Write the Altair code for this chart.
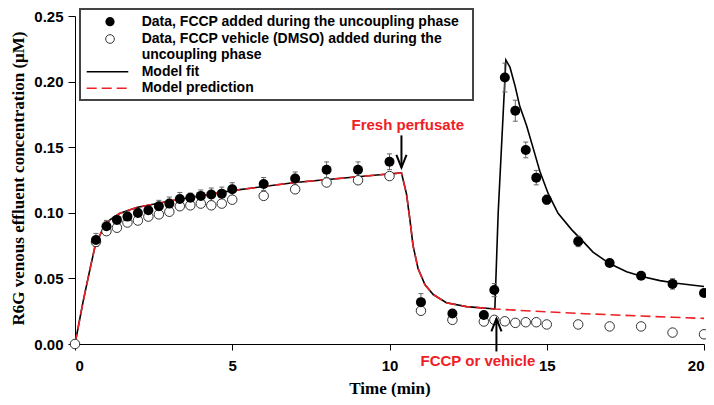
import altair as alt
import pandas as pd

# ---------------- data ----------------
time_filled = [0.667, 1.0, 1.333, 1.667, 2.0, 2.333, 2.667, 3.0, 3.333, 3.667, 4.0, 4.333,
               4.667, 5.0, 6.0, 7.0, 8.0, 9.0, 10.0, 11.0, 12.0, 13.0, 13.333, 13.667,
               14.0, 14.333, 14.667, 15.0, 16.0, 17.0, 18.0, 19.0, 20.0]
conc_filled = [0.0793, 0.0897, 0.0946, 0.0971, 0.0998, 0.1020, 0.1050, 0.1070, 0.1105, 0.1115,
               0.1129, 0.1139, 0.1146, 0.1179, 0.1219, 0.1261, 0.1328, 0.1328, 0.1389, 0.0319,
               0.0233, 0.0221, 0.0411, 0.2031, 0.1778, 0.1479, 0.1268, 0.1100, 0.0782, 0.0617,
               0.0520, 0.0458, 0.0389]
err_filled = [0.005, 0.0045, 0.003, 0.0035, 0.0035, 0.003, 0.0045, 0.005, 0.005, 0.0035,
              0.0045, 0.005, 0.005, 0.005, 0.005, 0.005, 0.006, 0.006, 0.006, 0.0065,
              0.002, 0.002, 0.005, 0.011, 0.008, 0.006, 0.0055, 0.0035, 0.004, 0.0025,
              0.002, 0.004, 0.002]

time_open = [0.0, 0.667, 1.0, 1.333, 1.667, 2.0, 2.333, 2.667, 3.0, 3.333, 3.667, 4.0, 4.333,
             4.667, 5.0, 6.0, 7.0, 8.0, 9.0, 10.0, 11.0, 12.0, 13.0, 13.333, 13.667,
             14.0, 14.333, 14.667, 15.0, 16.0, 17.0, 18.0, 19.0, 20.0]
conc_open = [0.0, 0.0778, 0.0860, 0.0886, 0.0926, 0.0941, 0.0971, 0.0988, 0.1008, 0.1050,
             0.1057, 0.1070, 0.1057, 0.1070, 0.1100, 0.1129, 0.1179, 0.1231, 0.1248, 0.1280,
             0.0253, 0.0184, 0.0171, 0.0184, 0.0173, 0.0161, 0.0166, 0.0166, 0.0149, 0.0149,
             0.0134, 0.0134, 0.0087, 0.0074]
err_open = [0.0, 0.003, 0.003, 0.002, 0.002, 0.002, 0.002, 0.002, 0.002, 0.002,
            0.002, 0.002, 0.002, 0.002, 0.002, 0.002, 0.002, 0.002, 0.002, 0.002,
            0.002, 0.002, 0.002, 0.002, 0.002, 0.002, 0.002, 0.002, 0.002, 0.002,
            0.002, 0.002, 0.003, 0.002]

# model curve shared by fit and prediction (uptake + washout)
base_t = [0.0, 0.26, 0.48, 0.64, 0.85, 1.11, 1.43, 1.96, 2.49, 3.02, 4.0, 5.0, 7.0, 9.6,
          10.38, 10.54, 10.65, 10.75, 10.91, 11.13, 11.39, 11.81, 12.45, 13.35]
base_v = [0.0, 0.0327, 0.0574, 0.0748, 0.0860, 0.0946, 0.0996, 0.1040, 0.1065, 0.1090,
          0.1130, 0.1169, 0.1231, 0.1288, 0.1304, 0.1144, 0.0946, 0.0748, 0.0574, 0.0451,
          0.0377, 0.0314, 0.0285, 0.0267]
# model fit after FCCP
fit_tail_t = [13.455, 13.70, 13.83, 14.0, 14.14, 14.36, 14.57, 14.78, 15.05, 15.36, 15.79,
              16.16, 16.47, 17.01, 17.54, 18.06, 18.60, 19.13, 20.0]
fit_tail_v = [0.0996, 0.2164, 0.2110, 0.1960, 0.1813, 0.1664, 0.1491, 0.1317, 0.1144, 0.0996,
              0.0872, 0.0780, 0.0700, 0.0611, 0.0550, 0.0513, 0.0483, 0.0463, 0.0438]
# model prediction after vehicle
pred_tail_t = [14.0, 15.0, 16.0, 17.0, 18.0, 19.0, 20.0]
pred_tail_v = [0.0258, 0.0245, 0.0233, 0.0223, 0.0213, 0.0204, 0.0195]

x_ticks = [0, 5, 10, 15, 20]
y_ticks = [0.0, 0.05, 0.10, 0.15, 0.20, 0.25]

legend_rows = ["Data, FCCP added during the uncoupling phase",
               "Data, FCCP vehicle (DMSO) added during the",
               "uncoupling phase",
               "Model fit",
               "Model prediction"]

fresh_label = "Fresh perfusate"
fresh_arrow_t, fresh_arrow_top, fresh_arrow_tip = 10.38, 0.159, 0.1345
fresh_text_t, fresh_text_v = 10.58, 0.1672
fccp_label = "FCCP or vehicle"
fccp_arrow_t, fccp_arrow_bottom, fccp_arrow_tip = 13.40, -0.0057, 0.0193
fccp_text_t, fccp_text_v = 12.81, -0.0126

# ---------------- frames ----------------
fit_df = pd.DataFrame({"t": base_t + fit_tail_t, "v": base_v + fit_tail_v})
fit_df["i"] = range(len(fit_df))
pred_df = pd.DataFrame({"t": base_t + pred_tail_t, "v": base_v + pred_tail_v})
pred_df["i"] = range(len(pred_df))

filled_df = pd.DataFrame({"t": time_filled, "v": conc_filled, "e": err_filled})
open_df = pd.DataFrame({"t": time_open, "v": conc_open, "e": err_open})
err_df = pd.concat([filled_df, open_df[open_df["e"] > 0]], ignore_index=True)
err_df["lo"] = err_df["v"] - err_df["e"]
err_df["hi"] = err_df["v"] + err_df["e"]

RED = "#ee2026"
GRAY = "#666666"
W, H = 629, 328

xs = alt.Scale(domain=[0, 20], nice=False, zero=False)
ys = alt.Scale(domain=[0, 0.25], nice=False)

x_axis = alt.Axis(values=x_ticks, title="Time (min)", grid=False, tickSize=6,
                  labelPadding=8, labelFont="Liberation Sans", labelFontWeight="bold",
                  labelFontSize=15, labelColor="black", domainColor="black",
                  tickColor="black", titleFont="Liberation Serif", titleFontWeight="bold",
                  titleFontSize=17, titleColor="black", titleY=44, titleBaseline="middle")
y_axis = alt.Axis(values=y_ticks, format=".2f", title="R6G  venous effluent concentration (\u03bcM)",
                  grid=False, tickSize=7, labelPadding=5, labelFont="Liberation Sans",
                  labelFontWeight="bold", labelFontSize=15, labelColor="black",
                  domainColor="black", tickColor="black", titleFont="Liberation Serif",
                  titleFontWeight="bold", titleFontSize=17, titleColor="black",
                  titleAngle=270, titleX=-57, titleY=162, titleAlign="center",
                  titleBaseline="middle")

X = lambda f="t": alt.X(f"{f}:Q", scale=xs, axis=x_axis)
Y = lambda f="v": alt.Y(f"{f}:Q", scale=ys, axis=y_axis)

# legend frame, drawn first (white box with grey border)
one = pd.DataFrame({"k": [0]})
frame = alt.Chart(one).mark_rect(fill="white", stroke="#444444", strokeWidth=2,
                                 strokeOpacity=1, fillOpacity=1).encode(
    x=alt.value(5), x2=alt.value(398), y=alt.value(-7), y2=alt.value(84))

fit_line = alt.Chart(fit_df).mark_line(color="black", strokeWidth=1.6).encode(
    x=X(), y=Y(), order="i:Q")
pred_line = alt.Chart(pred_df).mark_line(color=RED, strokeWidth=1.6, strokeDash=[10, 5]).encode(
    x=X(), y=Y(), order="i:Q")

err_rule = alt.Chart(err_df).mark_rule(color=GRAY, strokeWidth=1).encode(
    x=X(), y=Y("lo"), y2="hi:Q")
cap_lo = alt.Chart(err_df).mark_point(shape="M-1,0L1,0", size=25, color=GRAY, strokeWidth=1,
                                      filled=False, opacity=1).encode(x=X(), y=Y("lo"))
cap_hi = alt.Chart(err_df).mark_point(shape="M-1,0L1,0", size=25, color=GRAY, strokeWidth=1,
                                      filled=False, opacity=1).encode(x=X(), y=Y("hi"))

open_pts = alt.Chart(open_df).mark_point(shape="circle", size=90, filled=True, fill="white",
                                         stroke="#333333", strokeWidth=1, opacity=1).encode(
    x=X(), y=Y())
filled_pts = alt.Chart(filled_df).mark_circle(size=100, color="black", opacity=1).encode(
    x=X(), y=Y())

# annotations
ann_rules = pd.DataFrame({"t": [fresh_arrow_t, fccp_arrow_t],
                          "a": [fresh_arrow_top, fccp_arrow_bottom],
                          "b": [fresh_arrow_tip, fccp_arrow_tip]})
arrow_shafts = alt.Chart(ann_rules).mark_rule(color="black", strokeWidth=2).encode(
    x=X(), y=Y("a"), y2="b:Q")
head_down = alt.Chart(pd.DataFrame({"t": [fresh_arrow_t], "v": [fresh_arrow_tip]})).mark_point(
    shape="M-0.8,-2L0,0L0.8,-2", size=161, filled=False, color="black", strokeWidth=2,
    opacity=1).encode(x=X(), y=Y())
head_up = alt.Chart(pd.DataFrame({"t": [fccp_arrow_t], "v": [fccp_arrow_tip]})).mark_point(
    shape="M-0.8,2L0,0L0.8,2", size=161, filled=False, color="black", strokeWidth=2,
    opacity=1).encode(x=X(), y=Y())

ann_text_df = pd.DataFrame({"t": [fresh_text_t, fccp_text_t], "v": [fresh_text_v, fccp_text_v],
                            "label": [fresh_label, fccp_label]})
ann_text = alt.Chart(ann_text_df).mark_text(color=RED, font="Liberation Sans", fontWeight="bold",
                                            fontSize=15, align="center", baseline="middle").encode(
    x=X(), y=Y(), text="label:N")

leg_layers = []
row_y = [5.7, 23.0, 39.0, 55.7, 72.3]
for lbl, yy in zip(legend_rows, row_y):
    leg_layers.append(alt.Chart(one).mark_text(align="left", baseline="middle",
                                               font="Liberation Sans", fontWeight="bold",
                                               fontSize=14, color="black").encode(
        x=alt.value(66.7), y=alt.value(yy), text=alt.value(lbl)))
leg_layers.append(alt.Chart(one).mark_circle(size=85, color="black", opacity=1).encode(
    x=alt.value(35), y=alt.value(row_y[0])))
leg_layers.append(alt.Chart(one).mark_point(shape="circle", size=75, filled=True, fill="white",
                                            stroke="#333333", strokeWidth=1, opacity=1).encode(
    x=alt.value(35), y=alt.value(row_y[1])))
leg_layers.append(alt.Chart(one).mark_rule(color="black", strokeWidth=1.6).encode(
    x=alt.value(11.7), x2=alt.value(53.3), y=alt.value(row_y[3])))
leg_layers.append(alt.Chart(one).mark_rule(color=RED, strokeWidth=1.6, strokeDash=[10, 5]).encode(
    x=alt.value(11.7), x2=alt.value(53.3), y=alt.value(row_y[4])))

chart = alt.layer(
    frame, fit_line, pred_line, err_rule, cap_lo, cap_hi, open_pts, filled_pts,
    arrow_shafts, head_down, head_up, ann_text, *leg_layers
).properties(
    width=W, height=H,
    autosize=alt.AutoSizeParams(type="none"),
    padding={"left": 67, "top": 8, "right": 2, "bottom": 53},
    background="white",
).configure_view(strokeWidth=0)

chart.save("out.html", embed_options={"renderer": "svg", "actions": False})
